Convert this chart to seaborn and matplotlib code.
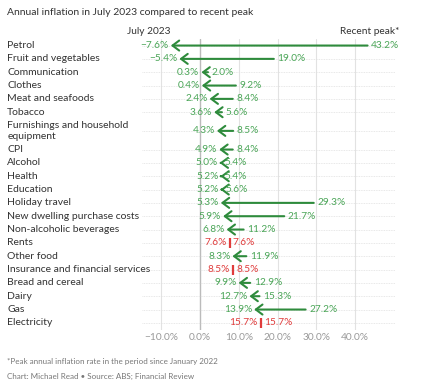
import numpy as np
import pandas as pd
import seaborn as sns
import matplotlib.pyplot as plt
from matplotlib import transforms

categories = ["Petrol", "Fruit and vegetables", "Communication", "Clothes",
              "Meat and seafoods", "Tobacco", "Furnishings and household\nequipment",
              "CPI", "Alcohol", "Health", "Education", "Holiday travel",
              "New dwelling purchase costs", "Non-alcoholic beverages", "Rents",
              "Other food", "Insurance and financial services", "Bread and cereal",
              "Dairy", "Gas", "Electricity"]
july_2023 = [-7.6, -5.4, 0.3, 0.4, 2.4, 3.6, 4.3, 4.9, 5.0, 5.2, 5.2, 5.3,
             5.9, 6.8, 7.6, 8.3, 8.5, 9.9, 12.7, 13.9, 15.7]
recent_peak = [43.2, 19.0, 2.0, 9.2, 8.4, 5.6, 8.5, 8.4, 5.4, 5.4, 5.6, 29.3,
               21.7, 11.2, 7.6, 11.9, 8.5, 12.9, 15.3, 27.2, 15.7]
x_ticks = [-10, 0, 10, 20, 30, 40]

# row positions (the two-line label gets extra room)
ypos = []
y = 0.0
for c in categories:
    if "\n" in c:
        y += 0.4
        ypos.append(y)
        y += 1.4
    else:
        ypos.append(y)
        y += 1.0

df = pd.DataFrame({"category": categories, "july": july_2023,
                   "peak": recent_peak, "y": ypos})
same = df[df["july"] == df["peak"]]

GREEN = "#2e8b3c"
GREEN_TXT = "#4aa557"
RED = "#e03c3c"
DARK = "#333333"
GREY = "#777777"

sns.set_theme(style="white")
plt.rcParams["font.family"] = ["Lato", "DejaVu Sans"]

fig = plt.figure(figsize=(4.23, 3.85), dpi=100)
ax = fig.add_axes([0.336, 0.143, 0.598, 0.756])

for xv in x_ticks:
    ax.axvline(xv, color="#bbbbbb" if xv == 0 else "#e2e2e2",
               lw=1.0 if xv == 0 else 0.8, zorder=0)
for yv in df["y"]:
    ax.axhline(yv, color="#e0e0e0", lw=0.6, ls=(0, (1, 1)), zorder=0)

# red markers where July equals the peak
sns.scatterplot(data=same, x="july", y="y", marker="|", s=60, color=RED,
                linewidth=1.6, ax=ax, legend=False, zorder=3)

fs = 7.3
for _, r in df.iterrows():
    if r["july"] == r["peak"]:
        ax.text(r["july"] - 0.8, r["y"], f"{r['july']:.1f}%", color=RED,
                ha="right", va="center", fontsize=fs)
        ax.text(r["peak"] + 0.8, r["y"], f"{r['peak']:.1f}%", color=RED,
                ha="left", va="center", fontsize=fs)
        continue
    ax.annotate("", xy=(r["july"], r["y"]), xytext=(r["peak"], r["y"]),
                arrowprops=dict(arrowstyle="->,head_length=0.4,head_width=0.3",
                                color=GREEN, lw=1.5, shrinkA=0, shrinkB=0))
    ax.text(r["july"] - 0.5, r["y"], f"{r['july']:.1f}%".replace("-", "\u2212"),
            color=GREEN_TXT, ha="right", va="center", fontsize=fs)
    ax.text(r["peak"] + 0.9, r["y"], f"{r['peak']:.1f}%", color=GREEN_TXT,
            ha="left", va="center", fontsize=fs)

ax.set_xlim(-15, 50.3)
ax.set_ylim(df["y"].max() + 0.53, -0.5)
ax.set_xticks(x_ticks)
ax.set_xticklabels([f"{v:.1f}%".replace("-", "\u2212") for v in x_ticks],
                   color="#999999", fontsize=fs)
ax.tick_params(axis="x", length=0, pad=2)
ax.set_yticks([])
ax.set_xlabel("")
ax.set_ylabel("")
sns.despine(ax=ax, left=True, bottom=True)

# category labels at the left of the figure
trans = transforms.blended_transform_factory(fig.transFigure, ax.transData)
for _, r in df.iterrows():
    ax.text(0.017, r["y"], r["category"], transform=trans, ha="left",
            va="center", fontsize=7.5, color=DARK, linespacing=1.3)

fig.text(0.017, 0.968, "Annual inflation in July 2023 compared to recent peak",
         fontsize=7.5, color=DARK, va="center")
fig.text(0.402, 0.917, "July 2023", fontsize=7.3, color=DARK, ha="right", va="center")
fig.text(0.943, 0.917, "Recent peak*", fontsize=7.3, color=DARK, ha="right", va="center")
fig.text(0.017, 0.06, "*Peak annual inflation rate in the period since January 2022",
         fontsize=5.8, color=GREY, va="center")
fig.text(0.017, 0.022, "Chart: Michael Read \u2022 Source: ABS; Financial Review",
         fontsize=5.8, color=GREY, va="center")

fig.savefig("out.png", dpi=100)
